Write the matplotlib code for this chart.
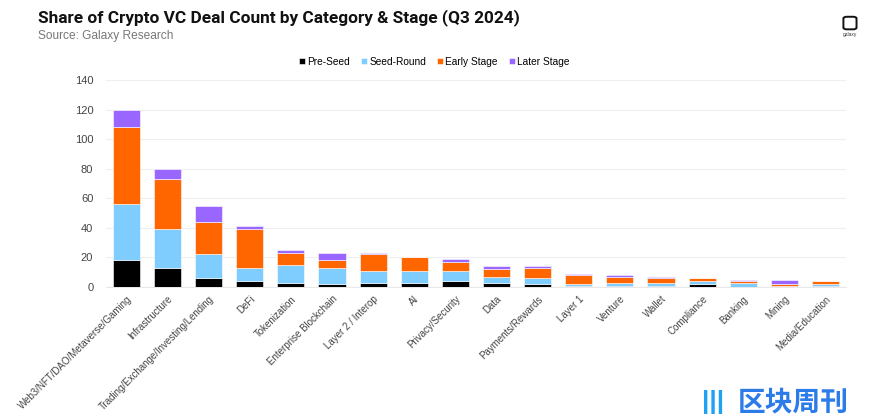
import numpy as np
import matplotlib.pyplot as plt
from matplotlib.patches import FancyBboxPatch

# Deal counts by category and stage (Q3 2024)
categories = ['Web3/NFT/DAO/Metaverse/Gaming', 'Infrastructure',
              'Trading/Exchange/Investing/Lending', 'DeFi', 'Tokenization',
              'Enterprise Blockchain', 'Layer 2 / Interop', 'AI',
              'Privacy/Security', 'Data', 'Payments/Rewards', 'Layer 1',
              'Venture', 'Wallet', 'Compliance', 'Banking', 'Mining',
              'Media/Education']
pre_seed = [18, 13, 6, 4, 3, 2, 3, 3, 4, 3, 2, 1, 1, 1, 2, 0, 0, 1]
seed_round = [38, 26, 16, 9, 12, 11, 8, 8, 7, 4, 4, 1, 2, 2, 2, 3, 1, 1]
early_stage = [52, 34, 22, 26, 8, 5, 11, 9, 6, 5, 7, 6, 4, 3, 2, 1, 1, 2]
later_stage = [12, 7, 11, 2, 2, 5, 1, 0, 2, 2, 1, 1, 1, 1, 0, 1, 3, 0]
y_ticks = [0, 20, 40, 60, 80, 100, 120, 140]

series = [('Pre-Seed', pre_seed, '#000000'),
          ('Seed-Round', seed_round, '#7FCCFF'),
          ('Early Stage', early_stage, '#FF6600'),
          ('Later Stage', later_stage, '#9966FF')]

plt.rcParams['font.family'] = ['Liberation Sans', 'DejaVu Sans']

fig = plt.figure(figsize=(8.74, 4.19), dpi=100)
ax = fig.add_axes([0.121, 0.315, 0.847, 0.494])

x = np.arange(len(categories))
bottom = np.zeros(len(categories))
for name, vals, color in series:
    ax.bar(x, vals, width=0.66, bottom=bottom, color=color, label=name,
           edgecolor='white', linewidth=0.4, zorder=3)
    bottom += np.array(vals)

ax.set_xlim(-0.5, len(categories) - 0.5)
ax.set_ylim(0, 140)
ax.set_yticks(y_ticks)
ax.tick_params(axis='y', length=0, labelsize=8, labelcolor='#444444', pad=9)
ax.tick_params(axis='x', length=0, labelsize=7.0, labelcolor='#444444', pad=5)
ax.set_xticks(x)
ax.set_xticklabels(categories, rotation=45, ha='right', rotation_mode='anchor')
ax.grid(axis='y', color='#EFEFEF', linewidth=0.8, zorder=0)
for s in ['top', 'right', 'left']:
    ax.spines[s].set_visible(False)
ax.spines['bottom'].set_color('#E8E8E8')

leg = fig.legend(loc='center', bbox_to_anchor=(0.497, 0.853), ncol=4,
                 frameon=False, fontsize=7.3, handlelength=0.55,
                 handleheight=0.55, handletextpad=0.25, columnspacing=1.1)

fig.text(0.043, 0.958, 'Share of Crypto VC Deal Count by Category & Stage (Q3 2024)',
         fontsize=12.4, fontweight='bold', family=['Roboto', 'DejaVu Sans'],
         va='center', ha='left', color='#111111')
fig.text(0.043, 0.915, 'Source: Galaxy Research', fontsize=8.6,
         color='#777777', va='center', ha='left')

# galaxy logo (top right)
logo = FancyBboxPatch((0.967, 0.932), 0.011, 0.026,
                      boxstyle='round,pad=0.002,rounding_size=0.004',
                      transform=fig.transFigure, fill=False,
                      edgecolor='#111111', linewidth=1.4)
fig.patches.append(logo)
fig.text(0.9725, 0.918, 'galaxy', fontsize=3.5, ha='center', va='center',
         color='#333333')

# watermark
fig.text(0.971, 0.040, '区块周刊', fontsize=20, fontweight='bold',
         family=['Noto Sans CJK SC', 'DejaVu Sans'], color='#2B7BE8',
         ha='right', va='center')
fig.text(0.828, 0.040, '|||', fontsize=19, fontweight='bold',
         color='#1FA3F0', ha='right', va='center')

fig.savefig('out.png', dpi=100)
